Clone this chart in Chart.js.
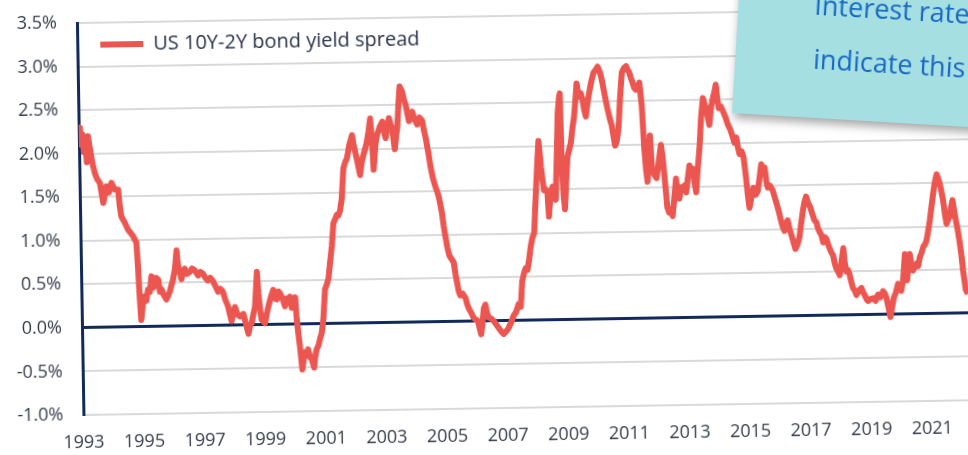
<!DOCTYPE html>
<html>
<head>
<meta charset="utf-8">
<title>US 10Y-2Y bond yield spread</title>
<script src="https://cdn.jsdelivr.net/npm/chart.js@4.4.1/dist/chart.umd.min.js"></script>
<style>
    html, body { margin: 0; padding: 0; background: #fff; width: 968px; height: 455px; overflow: hidden; }
    #wrap {
        position: absolute; left: 0; top: 0; width: 980px; height: 470px;
        transform: rotate(-0.95deg); transform-origin: 82px 328px;
    }
    .note {
        position: absolute; left: 732px; top: -47px; width: 300px; height: 160px;
        background: #a5dfe2;
        transform: rotate(3.4deg); transform-origin: 0 100%;
        box-shadow: 0 7px 9px -2px rgba(0, 0, 0, 0.35);
        font-family: "Comic Sans MS", "Open Sans", sans-serif;
        color: #1768c4; font-size: 27px; white-space: nowrap;
    }
    .note div { position: absolute; line-height: 1; }
</style>
</head>
<body>
<div id="wrap"><canvas id="spreadChart" width="980" height="470"></canvas></div>
<div class="note">
    <div style="left: 76px; top: 33px;">Interest rate</div>
    <div style="left: 78px; top: 87px;">indicate this</div>
</div>
<script>
// data (decimal year, spread in %)
const years = [
    1993.00, 1993.04, 1993.08, 1993.12, 1993.16, 1993.20, 1993.25, 1993.30, 1993.36, 1993.44, 1993.51, 1993.59, 1993.67, 1993.77, 1993.88, 1993.96,
    1994.05, 1994.16, 1994.27, 1994.31, 1994.36, 1994.47, 1994.57, 1994.66, 1994.74, 1994.84, 1994.88, 1994.92, 1994.96,
    1995.02, 1995.09, 1995.14, 1995.20, 1995.26, 1995.32, 1995.37, 1995.42, 1995.48, 1995.54, 1995.59, 1995.64, 1995.72, 1995.80, 1995.91,
    1996.03, 1996.10, 1996.16, 1996.20, 1996.26, 1996.31, 1996.36, 1996.42, 1996.50, 1996.58, 1996.66, 1996.75, 1996.86, 1996.94,
    1997.02, 1997.10, 1997.18, 1997.26, 1997.35, 1997.43, 1997.51, 1997.59, 1997.67, 1997.74, 1997.83, 1997.94,
    1998.00, 1998.06, 1998.14, 1998.22, 1998.33, 1998.41, 1998.49, 1998.55, 1998.60, 1998.66, 1998.72, 1998.80, 1998.84, 1998.88, 1998.93,
    1999.04, 1999.10, 1999.16, 1999.25, 1999.33, 1999.38, 1999.44, 1999.50, 1999.55, 1999.63, 1999.71, 1999.77, 1999.82, 1999.88, 1999.93,
    2000.00, 2000.05, 2000.09, 2000.14, 2000.18, 2000.25, 2000.30, 2000.34, 2000.40, 2000.45, 2000.51, 2000.56, 2000.64, 2000.68, 2000.73, 2000.79, 2000.85, 2000.91, 2000.97,
    2001.04, 2001.10, 2001.16, 2001.22, 2001.29, 2001.35, 2001.41, 2001.47, 2001.52, 2001.58, 2001.64, 2001.71, 2001.77, 2001.83, 2001.92,
    2002.01, 2002.06, 2002.11, 2002.18, 2002.26, 2002.32, 2002.38, 2002.44, 2002.50, 2002.56, 2002.62, 2002.67, 2002.71, 2002.78, 2002.84, 2002.93,
    2003.02, 2003.07, 2003.12, 2003.18, 2003.24, 2003.29, 2003.34, 2003.42, 2003.47, 2003.51, 2003.57, 2003.61, 2003.65, 2003.69, 2003.75, 2003.80, 2003.85, 2003.90, 2003.95,
    2004.01, 2004.09, 2004.17, 2004.25, 2004.34, 2004.39, 2004.44, 2004.52, 2004.59, 2004.66, 2004.74, 2004.79, 2004.84, 2004.89, 2004.94, 2004.99,
    2005.04, 2005.10, 2005.16, 2005.23, 2005.30, 2005.35, 2005.40, 2005.45, 2005.50, 2005.58, 2005.67, 2005.72, 2005.77, 2005.85, 2005.93,
    2006.00, 2006.07, 2006.12, 2006.17, 2006.22, 2006.27, 2006.32, 2006.37, 2006.42, 2006.50, 2006.59, 2006.67, 2006.75, 2006.83, 2006.91,
    2007.00, 2007.08, 2007.16, 2007.25, 2007.33, 2007.42, 2007.49, 2007.55, 2007.61, 2007.67, 2007.73, 2007.79, 2007.85, 2007.91, 2007.97,
    2008.04, 2008.10, 2008.16, 2008.20, 2008.23, 2008.28, 2008.32, 2008.38, 2008.43, 2008.47, 2008.53, 2008.60, 2008.65, 2008.70, 2008.76, 2008.81, 2008.86, 2008.89, 2008.92, 2008.96,
    2009.00, 2009.05, 2009.11, 2009.17, 2009.23, 2009.29, 2009.35, 2009.41, 2009.45, 2009.49, 2009.53, 2009.58, 2009.64, 2009.69, 2009.74, 2009.80, 2009.86, 2009.93,
    2010.01, 2010.08, 2010.15, 2010.21, 2010.26, 2010.31, 2010.36, 2010.41, 2010.46, 2010.53, 2010.59, 2010.64, 2010.69, 2010.75, 2010.81, 2010.88, 2010.95,
    2011.02, 2011.09, 2011.14, 2011.19, 2011.25, 2011.30, 2011.35, 2011.40, 2011.46, 2011.52, 2011.59, 2011.65, 2011.70, 2011.74, 2011.80, 2011.84, 2011.90, 2011.97,
    2012.04, 2012.12, 2012.20, 2012.25, 2012.29, 2012.34, 2012.38, 2012.44, 2012.50, 2012.55, 2012.62, 2012.68, 2012.73, 2012.78, 2012.84, 2012.90, 2012.96,
    2013.01, 2013.07, 2013.13, 2013.19, 2013.24, 2013.29, 2013.34, 2013.40, 2013.47, 2013.54, 2013.61, 2013.66, 2013.71, 2013.76, 2013.81, 2013.87, 2013.94,
    2014.00, 2014.04, 2014.09, 2014.13, 2014.20, 2014.26, 2014.34, 2014.42, 2014.50, 2014.58, 2014.63, 2014.69, 2014.74, 2014.79, 2014.86, 2014.92, 2014.96, 2014.99,
    2015.04, 2015.09, 2015.16, 2015.23, 2015.30, 2015.37, 2015.44, 2015.50, 2015.56, 2015.61, 2015.66, 2015.70, 2015.78, 2015.87, 2015.94,
    2016.02, 2016.07, 2016.12, 2016.18, 2016.23, 2016.28, 2016.34, 2016.40, 2016.45, 2016.52, 2016.58, 2016.65, 2016.72, 2016.78, 2016.85, 2016.90, 2016.96,
    2017.02, 2017.09, 2017.15, 2017.22, 2017.29, 2017.34, 2017.39, 2017.45, 2017.50, 2017.55, 2017.61, 2017.66, 2017.71, 2017.77, 2017.82, 2017.87, 2017.92, 2017.98,
    2018.03, 2018.09, 2018.16, 2018.20, 2018.25, 2018.30, 2018.36, 2018.41, 2018.46, 2018.52, 2018.57, 2018.65, 2018.74, 2018.79, 2018.84, 2018.90, 2018.95,
    2019.03, 2019.12, 2019.20, 2019.28, 2019.36, 2019.45, 2019.51, 2019.56, 2019.62, 2019.68, 2019.74, 2019.80, 2019.87, 2019.95,
    2020.00, 2020.05, 2020.12, 2020.19, 2020.25, 2020.30, 2020.35, 2020.40, 2020.45, 2020.51, 2020.57, 2020.62, 2020.68, 2020.74, 2020.80, 2020.86, 2020.91, 2020.97,
    2021.03, 2021.09, 2021.15, 2021.21, 2021.28, 2021.33, 2021.38, 2021.43, 2021.48, 2021.53, 2021.58, 2021.64, 2021.69, 2021.74, 2021.79, 2021.84, 2021.89, 2021.95,
    2022.01, 2022.06, 2022.10, 2022.14, 2022.18, 2022.25
];
const spread = [
    2.25, 2.30, 2.10, 2.22, 2.02, 2.18, 1.90, 2.20, 2.05, 1.88, 1.77, 1.70, 1.66, 1.43, 1.62, 1.55,
    1.66, 1.58, 1.58, 1.40, 1.27, 1.20, 1.12, 1.08, 1.04, 0.97, 0.70, 0.35, 0.08,
    0.25, 0.35, 0.30, 0.43, 0.40, 0.58, 0.45, 0.47, 0.56, 0.54, 0.40, 0.43, 0.36, 0.31, 0.39,
    0.54, 0.66, 0.87, 0.70, 0.62, 0.54, 0.62, 0.66, 0.60, 0.62, 0.66, 0.64, 0.58, 0.62,
    0.60, 0.55, 0.52, 0.55, 0.51, 0.45, 0.39, 0.42, 0.39, 0.30, 0.22, 0.05,
    0.15, 0.21, 0.12, 0.10, 0.13, 0.02, -0.10, 0.00, 0.02, 0.12, 0.21, 0.61, 0.36, 0.20, 0.06,
    0.02, 0.12, 0.21, 0.32, 0.40, 0.30, 0.29, 0.38, 0.36, 0.30, 0.21, 0.30, 0.25, 0.32, 0.19,
    0.25, 0.31, 0.06, -0.12, -0.25, -0.52, -0.40, -0.32, -0.36, -0.29, -0.38, -0.40, -0.50, -0.38, -0.29, -0.25, -0.17, -0.10, 0.06,
    0.40, 0.45, 0.52, 0.70, 0.90, 1.15, 1.20, 1.25, 1.24, 1.30, 1.43, 1.78, 1.85, 1.89, 2.05,
    2.16, 2.05, 1.97, 1.85, 1.70, 1.85, 1.93, 2.00, 2.08, 2.20, 2.35, 2.10, 1.76, 2.05, 2.16, 2.25,
    2.31, 2.20, 2.12, 2.25, 2.35, 2.28, 2.23, 1.99, 2.15, 2.23, 2.55, 2.71, 2.68, 2.65, 2.55, 2.50, 2.40, 2.31, 2.38,
    2.42, 2.33, 2.27, 2.35, 2.31, 2.20, 2.12, 1.95, 1.78, 1.65, 1.55, 1.50, 1.44, 1.35, 1.25, 1.10,
    0.98, 0.85, 0.76, 0.72, 0.68, 0.55, 0.45, 0.35, 0.30, 0.32, 0.27, 0.20, 0.15, 0.10, 0.04,
    0.02, 0.00, -0.08, -0.15, 0.00, 0.15, 0.19, 0.10, 0.04, 0.03, 0.00, -0.04, -0.08, -0.12, -0.15,
    -0.12, -0.08, -0.02, 0.06, 0.10, 0.19, 0.16, 0.45, 0.54, 0.60, 0.58, 0.70, 0.85, 0.95, 1.00,
    1.42, 1.75, 2.06, 1.90, 1.76, 1.60, 1.49, 1.50, 1.46, 1.19, 1.45, 1.53, 1.45, 1.38, 1.90, 2.37, 2.55, 2.60, 1.76, 1.45,
    1.27, 1.55, 1.87, 1.95, 2.03, 2.20, 2.33, 2.55, 2.71, 2.62, 2.56, 2.60, 2.52, 2.40, 2.33, 2.48, 2.60, 2.72,
    2.83, 2.86, 2.90, 2.85, 2.79, 2.70, 2.60, 2.50, 2.41, 2.30, 2.22, 2.10, 1.99, 2.05, 2.18, 2.55, 2.83,
    2.88, 2.90, 2.86, 2.83, 2.76, 2.71, 2.65, 2.63, 2.66, 2.71, 2.44, 1.95, 1.70, 1.57, 1.85, 2.10, 1.68, 1.65,
    1.61, 1.80, 1.99, 1.85, 1.68, 1.45, 1.27, 1.21, 1.25, 1.17, 1.40, 1.60, 1.45, 1.37, 1.50, 1.48, 1.52,
    1.44, 1.60, 1.75, 1.68, 1.71, 1.55, 1.44, 1.70, 1.94, 2.30, 2.52, 2.45, 2.40, 2.30, 2.21, 2.40, 2.52,
    2.60, 2.67, 2.50, 2.40, 2.42, 2.37, 2.30, 2.21, 2.15, 2.06, 2.00, 2.06, 1.95, 1.87, 1.90, 1.83, 1.70, 1.60,
    1.40, 1.25, 1.38, 1.48, 1.40, 1.44, 1.60, 1.75, 1.68, 1.71, 1.55, 1.48, 1.50, 1.44, 1.35,
    1.25, 1.18, 1.10, 1.02, 0.98, 1.05, 1.10, 1.00, 0.94, 0.85, 0.77, 0.82, 0.90, 1.05, 1.21, 1.30, 1.37,
    1.30, 1.25, 1.18, 1.10, 1.07, 1.00, 0.96, 0.92, 0.84, 0.90, 0.88, 0.82, 0.77, 0.72, 0.69, 0.60, 0.54, 0.50,
    0.46, 0.60, 0.77, 0.60, 0.50, 0.52, 0.46, 0.38, 0.31, 0.28, 0.23, 0.28, 0.31, 0.26, 0.23, 0.18, 0.16,
    0.18, 0.19, 0.16, 0.23, 0.20, 0.27, 0.24, 0.19, 0.08, -0.03, 0.08, 0.19, 0.25, 0.35,
    0.30, 0.27, 0.40, 0.69, 0.39, 0.55, 0.69, 0.55, 0.50, 0.55, 0.58, 0.55, 0.65, 0.70, 0.77, 0.80, 0.84, 0.95,
    1.07, 1.22, 1.37, 1.50, 1.60, 1.55, 1.49, 1.40, 1.30, 1.15, 1.03, 1.08, 1.11, 1.22, 1.30, 1.18, 1.07, 0.95,
    0.80, 0.65, 0.50, 0.38, 0.27, 0.22
];
const yearTicks = [1993, 1995, 1997, 1999, 2001, 2003, 2005, 2007, 2009, 2011, 2013, 2015, 2017, 2019, 2021];
const pctTicks = [-1.0, -0.5, 0.0, 0.5, 1.0, 1.5, 2.0, 2.5, 3.0, 3.5];
const seriesName = 'US 10Y-2Y bond yield spread';

const navy = '#12295b';
const red = '#ec5650';
const gridGrey = '#d9d9d9';
const labelColor = '#363c4a';

// put the legend inside the plot, near its top-left corner
const legendInside = {
    id: 'legendInside',
    beforeDraw(chart) {
        const lg = chart.legend;
        const h = lg.bottom - lg.top;
        const w = lg.right - lg.left;
        lg.top = chart.chartArea.top - 1;
        lg.bottom = lg.top + h;
        lg.left = chart.chartArea.left + 10;
        lg.right = lg.left + w;
    }
};

const ctx = document.getElementById('spreadChart').getContext('2d');
new Chart(ctx, {
    type: 'line',
    data: {
        datasets: [{
            label: seriesName,
            data: years.map((y, i) => ({ x: y, y: spread[i] })),
            borderColor: red,
            backgroundColor: red,
            borderWidth: 6,
            borderJoinStyle: 'round',
            pointRadius: 0,
            pointStyle: 'line',
            tension: 0
        }]
    },
    plugins: [legendInside],
    options: {
        responsive: false,
        animation: false,
        layout: { padding: { top: 23, right: 4, left: 0, bottom: 0 } },
        plugins: {
            legend: {
                position: 'chartArea',
                align: 'start',
                labels: {
                    usePointStyle: true,
                    pointStyleWidth: 43,
                    padding: 13,
                    color: '#27324a',
                    font: { family: 'Open Sans', size: 20 }
                }
            },
            tooltip: { enabled: false }
        },
        scales: {
            x: {
                type: 'linear',
                min: 1993,
                max: 2022.5,
                afterBuildTicks: s => { s.ticks = yearTicks.map(v => ({ value: v })); },
                afterFit: s => { s.height = 55; },
                grid: { display: false, drawTicks: false },
                border: { display: false },
                ticks: {
                    autoSkip: false,
                    maxRotation: 0,
                    padding: 17,
                    color: labelColor,
                    font: { family: 'Open Sans', size: 18 },
                    callback: v => String(v)
                }
            },
            y: {
                min: -1,
                max: 3.5,
                afterBuildTicks: s => { s.ticks = pctTicks.map(v => ({ value: v })); },
                afterFit: s => { s.width = 82; s.paddingTop = 0; s.paddingBottom = 0; },
                grid: {
                    drawTicks: false,
                    color: c => (c.tick && c.tick.value === 0 ? navy : gridGrey),
                    lineWidth: c => (c.tick && c.tick.value === 0 ? 3 : 2)
                },
                border: { color: navy, width: 3 },
                ticks: {
                    padding: 20,
                    color: labelColor,
                    font: { family: 'Open Sans', size: 18 },
                    callback: v => v.toFixed(1) + '%'
                }
            }
        }
    }
});
</script>
</body>
</html>
